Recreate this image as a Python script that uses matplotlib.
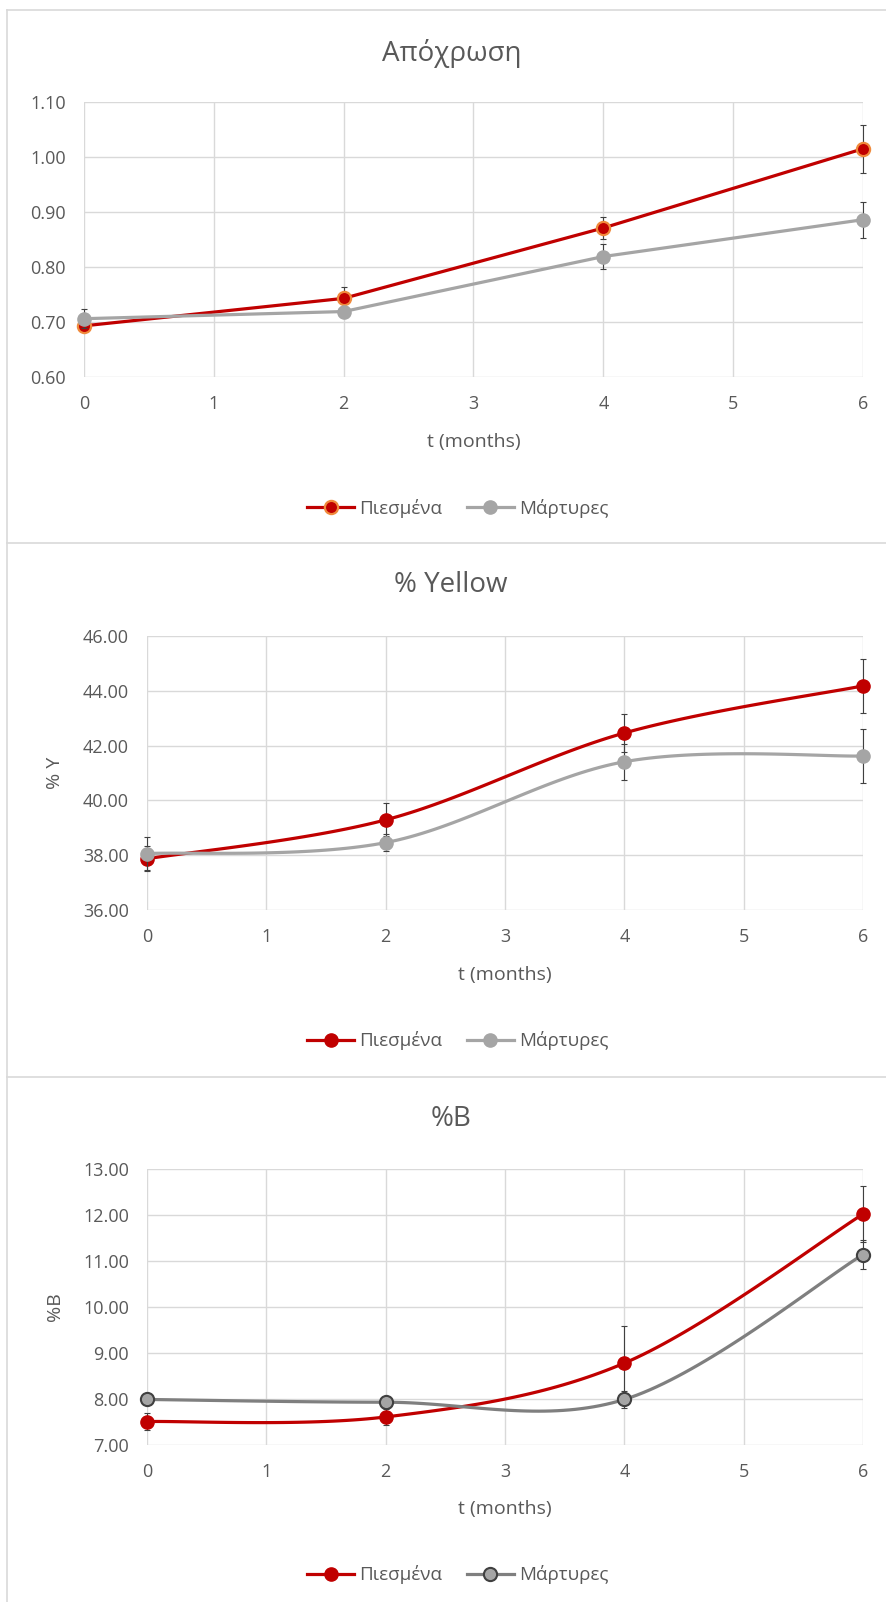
import matplotlib
matplotlib.use("Agg")
import matplotlib.pyplot as plt
import numpy as np
from matplotlib.lines import Line2D

plt.rcParams["font.family"] = ["Open Sans", "DejaVu Sans"]

W, H = 887, 1602
TEXT = "#595959"
GRID = "#D9D9D9"
RED = "#C00000"
GREY = "#A5A5A5"
DARK_GREY = "#7F7F7F"

months = [0, 2, 4, 6]
series_labels = ["Πιεσμένα", "Μάρτυρες"]

hue_pressed = [0.693, 0.743, 0.871, 1.015]
hue_pressed_err = [0.010, 0.021, 0.020, 0.044]
hue_control = [0.706, 0.719, 0.819, 0.886]
hue_control_err = [0.017, 0.005, 0.022, 0.033]

yellow_pressed = [37.87, 39.29, 42.46, 44.18]
yellow_pressed_err = [0.45, 0.60, 0.71, 0.98]
yellow_control = [38.06, 38.46, 41.41, 41.62]
yellow_control_err = [0.60, 0.30, 0.65, 0.98]

blue_pressed = [7.51, 7.61, 8.78, 12.02]
blue_pressed_err = [0.18, 0.18, 0.81, 0.61]
blue_control = [7.99, 7.93, 7.99, 11.14]
blue_control_err = [0.10, 0.10, 0.18, 0.32]

MS = 9.5
LW = 2.3


def smooth_curve(x, y, steps=40):
    # spreadsheet-style smoothed line: cubic Bezier segments through the points
    pts = np.column_stack([x, y]).astype(float)
    n = len(pts)
    out = [pts[0]]
    for i in range(n - 1):
        p0 = pts[i - 1] if i > 0 else pts[i]
        p1, p2 = pts[i], pts[i + 1]
        p3 = pts[i + 2] if i + 2 < n else pts[i + 1]
        c1 = p1 + (p2 - p0) / 6.0
        c2 = p2 - (p3 - p1) / 6.0
        t = np.linspace(0, 1, steps)[1:, None]
        seg = ((1 - t) ** 3) * p1 + 3 * ((1 - t) ** 2) * t * c1 + 3 * (1 - t) * t ** 2 * c2 + t ** 3 * p2
        out.extend(seg)
    out = np.array(out)
    return out[:, 0], out[:, 1]


def px_box(left, top, right, bottom):
    return [left / W, 1 - bottom / H, (right - left) / W, (bottom - top) / H]


def style_axes(ax, ylim, yticks, xlabel_y):
    ax.set_xlim(0, 6)
    ax.set_ylim(*ylim)
    ax.set_xticks(range(7))
    ax.set_yticks(yticks)
    ax.set_yticklabels([f"{v:.2f}" for v in yticks])
    for s in ax.spines.values():
        s.set_visible(False)
    ax.grid(True, color=GRID, linewidth=1.0)
    ax.set_axisbelow(True)
    ax.tick_params(length=0, labelsize=13, labelcolor=TEXT, pad=13)
    ax.set_xlabel("t (months)", fontsize=14, color=TEXT, va="center")
    ax.xaxis.set_label_coords(0.5, xlabel_y)


def draw_series(ax, y, err, color, mfc, mec, mew, smooth, zorder):
    eb = ax.errorbar(months, y, yerr=err, fmt="none", ecolor="#404040",
                     elinewidth=0.8, capsize=2.5, capthick=0.8, zorder=zorder)
    for art in eb.lines[1] + eb.lines[2]:
        art.set_clip_on(False)
    if smooth:
        xs, ys = smooth_curve(months, y)
    else:
        xs, ys = months, y
    ax.plot(xs, ys, color=color, linewidth=LW, zorder=zorder + 1,
            solid_capstyle="round", clip_on=False)
    ax.plot(months, y, linestyle="none", marker="o", markersize=MS,
            markerfacecolor=mfc, markeredgecolor=mec, markeredgewidth=mew,
            zorder=zorder + 2, clip_on=False)


def add_legend(fig, y_px, handles):
    fig.legend(handles=handles, labels=series_labels, loc="center",
               bbox_to_anchor=(458 / W, 1 - y_px / H), ncol=2, frameon=False,
               fontsize=13.5, labelcolor=TEXT, handlelength=2.5, handletextpad=0.3,
               columnspacing=1.3)


def handle(color, mfc, mec, mew):
    return Line2D([], [], color=color, linewidth=LW, marker="o", markersize=MS,
                  markerfacecolor=mfc, markeredgecolor=mec, markeredgewidth=mew)


fig = plt.figure(figsize=(W / 100, H / 100), dpi=100)

# panel frames
for yb in (10, 543, 1077):
    fig.add_artist(Line2D([7 / W, 1], [1 - yb / H] * 2, color=GRID, linewidth=1.2))
fig.add_artist(Line2D([7 / W] * 2, [1 - 10 / H, 0], color=GRID, linewidth=1.2))

# Απόχρωση
ax1 = fig.add_axes(px_box(84, 102, 863, 377))
style_axes(ax1, (0.60, 1.10), [0.60, 0.70, 0.80, 0.90, 1.00, 1.10], -0.238)
draw_series(ax1, hue_pressed, hue_pressed_err, RED, RED, "#F08A3C", 1.6, False, 3)
draw_series(ax1, hue_control, hue_control_err, GREY, GREY, GREY, 1.0, False, 6)
fig.text(452 / W, 1 - 53 / H, "Απόχρωση", ha="center", va="center", fontsize=20, color=TEXT)
add_legend(fig, 508, [handle(RED, RED, "#F08A3C", 1.6), handle(GREY, GREY, GREY, 1.0)])

# % Yellow
ax2 = fig.add_axes(px_box(147, 636, 863, 910))
style_axes(ax2, (36, 46), [36, 38, 40, 42, 44, 46], -0.239)
draw_series(ax2, yellow_pressed, yellow_pressed_err, RED, RED, RED, 1.0, True, 3)
draw_series(ax2, yellow_control, yellow_control_err, GREY, GREY, GREY, 1.0, True, 6)
ax2.set_ylabel("% Y", fontsize=14, color=TEXT, va="center")
ax2.yaxis.set_label_coords(-0.128, 0.5)
fig.text(451 / W, 1 - 585 / H, "% Yellow", ha="center", va="center", fontsize=20, color=TEXT)
add_legend(fig, 1041, [handle(RED, RED, RED, 1.0), handle(GREY, GREY, GREY, 1.0)])

# %B
ax3 = fig.add_axes(px_box(147, 1169, 863, 1445))
style_axes(ax3, (7, 13), [7, 8, 9, 10, 11, 12, 13], -0.231)
draw_series(ax3, blue_pressed, blue_pressed_err, RED, RED, RED, 1.0, True, 3)
draw_series(ax3, blue_control, blue_control_err, DARK_GREY, GREY, "#404040", 1.5, True, 6)
ax3.set_ylabel("%B", fontsize=14, color=TEXT, va="center")
ax3.yaxis.set_label_coords(-0.128, 0.5)
fig.text(451 / W, 1 - 1119 / H, "%B", ha="center", va="center", fontsize=20, color=TEXT)
add_legend(fig, 1575, [handle(RED, RED, RED, 1.0), handle(DARK_GREY, GREY, "#404040", 1.5)])

fig.savefig("out.png", dpi=100, facecolor="white")
